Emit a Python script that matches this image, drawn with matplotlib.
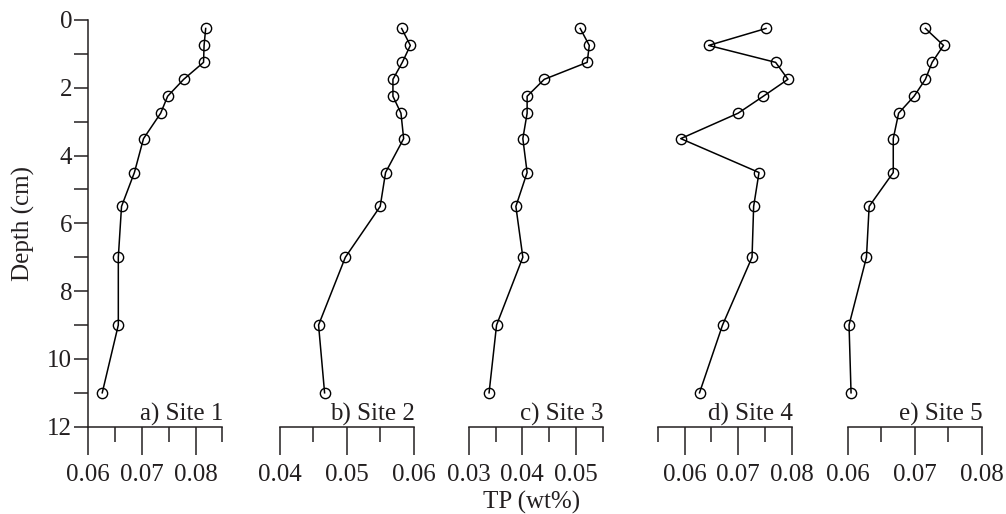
import matplotlib
matplotlib.use("Agg")
import matplotlib.pyplot as plt
from matplotlib.ticker import MultipleLocator, FixedLocator

plt.rcParams['font.family'] = ['Liberation Serif', 'DejaVu Serif']
plt.rcParams['font.size'] = 18

depth = [0.25, 0.75, 1.25, 1.75, 2.25, 2.75, 3.5, 4.5, 5.5, 7, 9, 11]

site1 = [0.0819, 0.0816, 0.0815, 0.0778, 0.0748, 0.0735, 0.0703, 0.0686, 0.0662, 0.0656, 0.0656, 0.0626]
site2 = [0.0582, 0.0595, 0.0583, 0.0569, 0.0569, 0.0581, 0.0585, 0.0558, 0.0550, 0.0498, 0.0458, 0.0467]
site3 = [0.0508, 0.0525, 0.0521, 0.0441, 0.0409, 0.0409, 0.0401, 0.0409, 0.0388, 0.0401, 0.0352, 0.0338]
site4 = [0.0752, 0.0645, 0.0770, 0.0793, 0.0747, 0.0700, 0.0593, 0.0739, 0.0729, 0.0726, 0.0671, 0.0628]
site5 = [0.0716, 0.0743, 0.0726, 0.0716, 0.0699, 0.0676, 0.0668, 0.0668, 0.0632, 0.0628, 0.0602, 0.0605]

series = [site1, site2, site3, site4, site5]
panel_labels = ["a) Site 1", "b) Site 2", "c) Site 3", "d) Site 4", "e) Site 5"]
xlims = [(0.06, 0.085), (0.04, 0.06), (0.03, 0.055), (0.055, 0.08), (0.06, 0.08)]
major_ticks = [[0.06, 0.07, 0.08], [0.04, 0.05, 0.06], [0.03, 0.04, 0.05],
               [0.06, 0.07, 0.08], [0.06, 0.07, 0.08]]
minor_ticks = [[0.065, 0.075, 0.085], [0.045, 0.055], [0.035, 0.045, 0.055],
               [0.055, 0.065, 0.075], [0.065, 0.075]]
ylabel = "Depth (cm)"
xlabel = "TP (wt%)"

W, H = 1006, 514
fig = plt.figure(figsize=(W / 100, H / 100), dpi=100)

ink = '#231f20'
lefts_px = [88.3, 279.7, 468.7, 657.7, 847.7]
width_px = 134.0
bottom_px = 426.7
top_px = 20.0

for i in range(5):
    ax = fig.add_axes([lefts_px[i] / W, (H - bottom_px) / H,
                       width_px / W, (bottom_px - top_px) / H])
    ax.plot(series[i], depth, color='black', lw=1.1, marker='o', ms=7.4,
            mfc='none', mec='black', mew=1.0, clip_on=False, zorder=3)
    ax.set_xlim(*xlims[i])
    ax.set_ylim(12, 0)
    ax.patch.set_visible(False)
    for s in ['top', 'right']:
        ax.spines[s].set_visible(False)
    ax.spines['bottom'].set_linewidth(1.1)
    ax.spines['bottom'].set_color(ink)
    ax.xaxis.set_major_locator(FixedLocator(major_ticks[i]))
    ax.xaxis.set_minor_locator(FixedLocator(minor_ticks[i]))
    ax.set_xticklabels([f"{v:.2f}" for v in major_ticks[i]])
    ax.tick_params(axis='x', which='major', direction='out', length=20.2,
                   width=1.1, pad=6.5, color=ink, labelcolor=ink, labelsize=18)
    ax.tick_params(axis='x', which='minor', direction='out', length=10.8,
                   width=1.1, color=ink)
    if i == 0:
        ax.spines['left'].set_linewidth(1.1)
        ax.spines['left'].set_color(ink)
        ax.yaxis.set_major_locator(MultipleLocator(2))
        ax.yaxis.set_minor_locator(MultipleLocator(1))
        ax.tick_params(axis='y', which='both', direction='out', length=10.0,
                       width=1.1, pad=1.5, color=ink, labelcolor=ink, labelsize=18)
    else:
        ax.spines['left'].set_visible(False)
        ax.set_yticks([])
    ax.annotate(panel_labels[i], xy=(1, 0), xycoords='axes fraction',
                xytext=(1, 6), textcoords='offset pixels', ha='right',
                va='baseline', color=ink, fontsize=18)

fig.text(23 / W, (H - 223.5) / H, ylabel, rotation=90, ha='center', va='center',
         color=ink, fontsize=18)
fig.text(532 / W, (H - 509) / H, xlabel, ha='center', va='baseline',
         color=ink, fontsize=18)

fig.savefig("out.png", dpi=100)
